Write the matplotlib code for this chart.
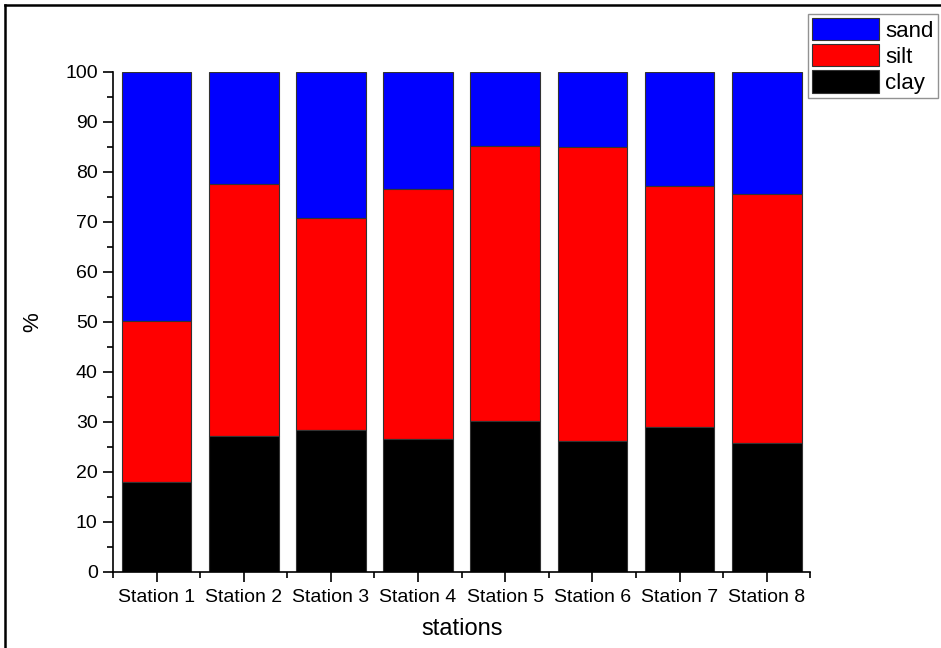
import matplotlib.pyplot as plt
import numpy as np
from matplotlib.lines import Line2D
from matplotlib.ticker import MultipleLocator, FixedLocator

# -----------------------------
# data (%)
# -----------------------------
stations = ["Station 1", "Station 2", "Station 3", "Station 4",
            "Station 5", "Station 6", "Station 7", "Station 8"]
clay = [18.0, 27.2, 28.3, 26.6, 30.2, 26.1, 29.0, 25.7]
silt = [32.1, 50.4, 42.5, 49.9, 55.0, 58.9, 48.2, 49.9]
sand = [49.9, 22.4, 29.2, 23.5, 14.8, 15.0, 22.8, 24.4]

plt.rcParams["font.family"] = ["Liberation Sans", "DejaVu Sans"]

fig = plt.figure(figsize=(9.41, 6.48), dpi=100)
ax = fig.add_axes([0.1201, 0.1173, 0.741, 0.7721])

x = np.arange(1, len(stations) + 1)
clay_a = np.array(clay)
silt_a = np.array(silt)
sand_a = np.array(sand)

edge = "#333333"
b_sand = ax.bar(x, sand_a, 0.8, bottom=clay_a + silt_a, color="#0000ff",
                edgecolor=edge, linewidth=0.8, label="sand")
b_silt = ax.bar(x, silt_a, 0.8, bottom=clay_a, color="#ff0000",
                edgecolor=edge, linewidth=0.8, label="silt")
b_clay = ax.bar(x, clay_a, 0.8, color="#000000",
                edgecolor=edge, linewidth=0.8, label="clay")

ax.set_xlim(0.5, len(stations) + 0.5)
ax.set_ylim(0, 100)

ax.spines["top"].set_visible(False)
ax.spines["right"].set_visible(False)
ax.spines["left"].set_linewidth(1.2)
ax.spines["bottom"].set_linewidth(1.2)

ax.set_xticks(x)
ax.set_xticklabels(stations, fontsize=14)
ax.xaxis.set_minor_locator(FixedLocator(np.arange(0.5, len(stations) + 1, 1)))
ax.yaxis.set_major_locator(MultipleLocator(10))
ax.yaxis.set_minor_locator(MultipleLocator(5))
ax.tick_params(axis="both", which="major", direction="out", length=7, width=1.2, labelsize=14)
ax.tick_params(axis="both", which="minor", direction="out", length=4, width=1.2)
ax.tick_params(axis="x", pad=5)
ax.tick_params(axis="y", pad=4)

ax.set_xlabel("stations", fontsize=17, labelpad=9)
ax.set_ylabel("%", fontsize=16, labelpad=16)

leg = fig.legend(handles=[b_sand, b_silt, b_clay], loc="upper right",
                 bbox_to_anchor=(0.997, 0.979), fontsize=16, frameon=True,
                 fancybox=False, edgecolor="#777777", handlelength=3.0,
                 handleheight=1.15, handletextpad=0.3, labelspacing=0.12,
                 borderpad=0.2, borderaxespad=0.0)
leg.get_frame().set_linewidth(1.0)

# frame lines at the image edges (left and top)
fig.add_artist(Line2D([0.0055, 0.0055], [0.0, 0.9925], color="black", linewidth=1.8))
fig.add_artist(Line2D([0.0055, 1.0], [0.9925, 0.9925], color="black", linewidth=1.8))

fig.savefig("out.png", dpi=100)
